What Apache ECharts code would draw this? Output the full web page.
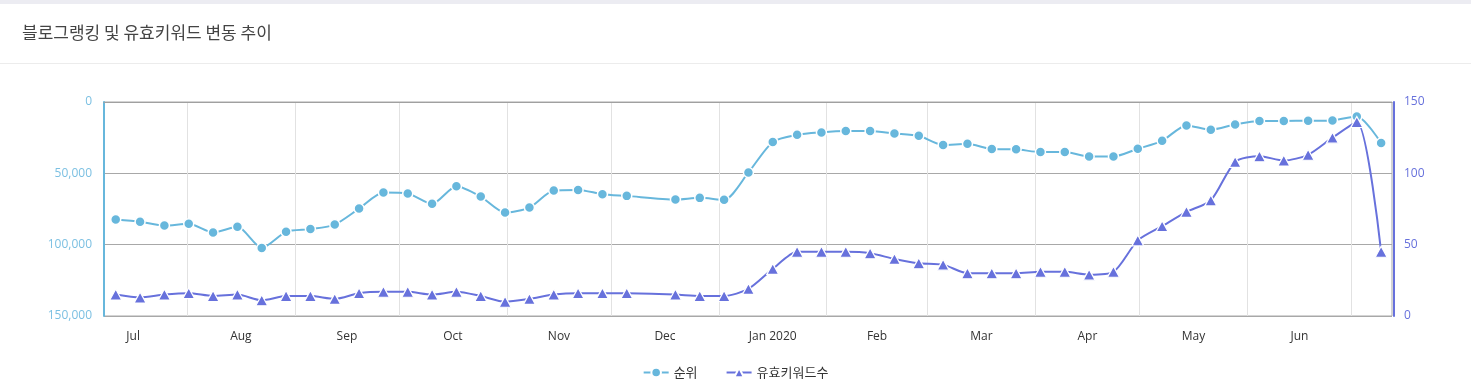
<!DOCTYPE html>
<html>
<head>
<meta charset="utf-8">
<script src="https://cdn.jsdelivr.net/npm/echarts@6/dist/echarts.min.js"></script>
<style>
html,body{margin:0;padding:0;background:#fff;}
#chart{width:1471px;height:388px;}
</style>
</head>
<body>
<div id="chart"></div>
<script>
// ---- data ----
const dates = [
  '2019-07-11','2019-07-18','2019-07-25','2019-08-01','2019-08-08','2019-08-15','2019-08-22','2019-08-29',
  '2019-09-05','2019-09-12','2019-09-19','2019-09-26','2019-10-03','2019-10-10','2019-10-17','2019-10-24',
  '2019-10-31','2019-11-07','2019-11-14','2019-11-21','2019-11-28','2019-12-05','2019-12-19','2019-12-26',
  '2020-01-02','2020-01-09','2020-01-16','2020-01-23','2020-01-30','2020-02-06','2020-02-13','2020-02-20',
  '2020-02-27','2020-03-05','2020-03-12','2020-03-19','2020-03-26','2020-04-02','2020-04-09','2020-04-16',
  '2020-04-23','2020-04-30','2020-05-07','2020-05-14','2020-05-21','2020-05-28','2020-06-04','2020-06-11',
  '2020-06-18','2020-06-25','2020-07-02','2020-07-09'
];
const rankValues = [
  82400, 84000, 86600, 85400, 91500, 87500, 102300, 91000,
  89100, 85900, 74700, 63400, 64100, 71400, 59000, 66300,
  77500, 74000, 62000, 61600, 64600, 65800, 68400, 67200,
  68600, 49400, 28000, 23000, 21300, 20400, 20400, 22000,
  23700, 30200, 29300, 33000, 33200, 35100, 35100, 38200,
  38200, 32800, 27200, 16400, 19400, 15700, 13300, 13300,
  13100, 12900, 10100, 28800
];
const keywordValues = [
  15, 13, 15, 16, 14, 15, 11, 14,
  14, 12, 16, 17, 17, 15, 17, 14,
  10, 12, 15, 16, 16, 16, 15, 14,
  14, 19, 33, 45, 45, 45, 44, 40,
  37, 36, 30, 30, 30, 31, 31, 29,
  31, 53, 63, 73, 81, 108, 112, 109,
  113, 125, 136, 45
];
const seriesNames = ['순위', '유효키워드수'];
const monthStarts = [
  '2019-08-01','2019-09-01','2019-10-01','2019-11-01','2019-12-01','2020-01-01',
  '2020-02-01','2020-03-01','2020-04-01','2020-05-01','2020-06-01','2020-07-01'
];
const monthLabelDates = [
  '2019-07-16 12:00','2019-08-16 12:00','2019-09-16 00:00','2019-10-16 12:00','2019-11-16 00:00','2019-12-16 12:00',
  '2020-01-16 12:00','2020-02-15 12:00','2020-03-16 12:00','2020-04-16 00:00','2020-05-16 12:00','2020-06-16 00:00'
];
const monthLabels = ['Jul','Aug','Sep','Oct','Nov','Dec','Jan 2020','Feb','Mar','Apr','May','Jun'];
const rankTicks = [0, 50000, 100000, 150000];
const keywordTicks = [0, 50, 100, 150];

// ---- chart ----
function ts(s){ const p = s.split(/[- :]/).map(Number); return Date.UTC(p[0], p[1]-1, p[2], p[3]||0, p[4]||0); }
const labelTs = monthLabelDates.map(ts);
const pointTs = dates.map(d => ts(d + ' 12:00'));

const axisFont = 'Open Sans';
const chart = echarts.init(document.getElementById('chart'), null, {renderer: 'canvas'});
chart.setOption({
  animation: false,
  title: {
    text: '블로그랭킹 및 유효키워드 변동 추이',
    left: 17, top: 19,
    textStyle: {fontSize: 17, fontWeight: 'normal', color: '#444', fontFamily: 'Noto Sans CJK KR'}
  },
  graphic: [
    {type: 'rect', shape: {x: 0, y: 0, width: 1471, height: 4}, style: {fill: '#ececf2'}, silent: true},
    {type: 'rect', shape: {x: 0, y: 63, width: 1471, height: 1}, style: {fill: '#ececec'}, silent: true}
  ],
  legend: {
    bottom: 4, left: 'center',
    itemWidth: 25, itemHeight: 12, itemGap: 28,
    textStyle: {fontSize: 13, color: '#333', fontFamily: 'Noto Sans CJK KR'},
    data: seriesNames
  },
  grid: {
    left: 104, right: 79, top: 102, bottom: 72,
    show: true, borderColor: '#a8a8a8', borderWidth: 1
  },
  xAxis: {
    type: 'value',
    min: ts('2019-07-08 03:00'),
    max: ts('2020-07-12 15:00'),
    axisLine: {show: true, lineStyle: {color: '#a0a0a0', width: 1}},
    axisTick: {show: false, customValues: monthStarts.map(ts)},
    splitLine: {show: true, lineStyle: {color: '#e2e2e2', width: 1}},
    axisLabel: {
      customValues: labelTs,
      margin: 15,
      color: '#333', fontSize: 12, fontFamily: axisFont,
      formatter: function (v) {
        let best = 0, bd = Infinity;
        labelTs.forEach((t, i) => { const d = Math.abs(t - v); if (d < bd) { bd = d; best = i; } });
        return monthLabels[best];
      }
    }
  },
  yAxis: [
    {
      type: 'value', inverse: true, min: rankTicks[0], max: rankTicks[rankTicks.length-1], interval: rankTicks[1]-rankTicks[0],
      axisLine: {show: true, lineStyle: {color: '#67b7dc', width: 2}},
      axisTick: {show: false},
      splitLine: {show: true, lineStyle: {color: '#a8a8a8', width: 1}},
      axisLabel: {color: '#7cc0e2', fontSize: 12, fontFamily: axisFont, margin: 12}
    },
    {
      type: 'value', position: 'right', offset: 2, min: keywordTicks[0], max: keywordTicks[keywordTicks.length-1], interval: keywordTicks[1]-keywordTicks[0],
      axisLine: {show: true, lineStyle: {color: '#6771dc', width: 2}},
      axisTick: {show: false},
      splitLine: {show: false},
      axisLabel: {color: '#6771dc', fontSize: 12, fontFamily: axisFont, margin: 10}
    }
  ],
  series: [
    {
      name: seriesNames[0], type: 'line', yAxisIndex: 0, smooth: 0.25,
      data: pointTs.map((t, i) => [t, rankValues[i]]),
      symbol: 'circle', symbolSize: 10,
      itemStyle: {color: '#67b7dc', borderColor: '#fff', borderWidth: 1.5},
      lineStyle: {color: '#67b7dc', width: 2}
    },
    {
      name: seriesNames[1], type: 'line', yAxisIndex: 1, smooth: 0.25,
      data: pointTs.map((t, i) => [t, keywordValues[i]]),
      symbol: 'triangle', symbolSize: [12, 11],
      itemStyle: {color: '#6771dc', borderColor: '#fff', borderWidth: 1.2},
      lineStyle: {color: '#6771dc', width: 2}
    }
  ]
});
</script>
</body>
</html>
